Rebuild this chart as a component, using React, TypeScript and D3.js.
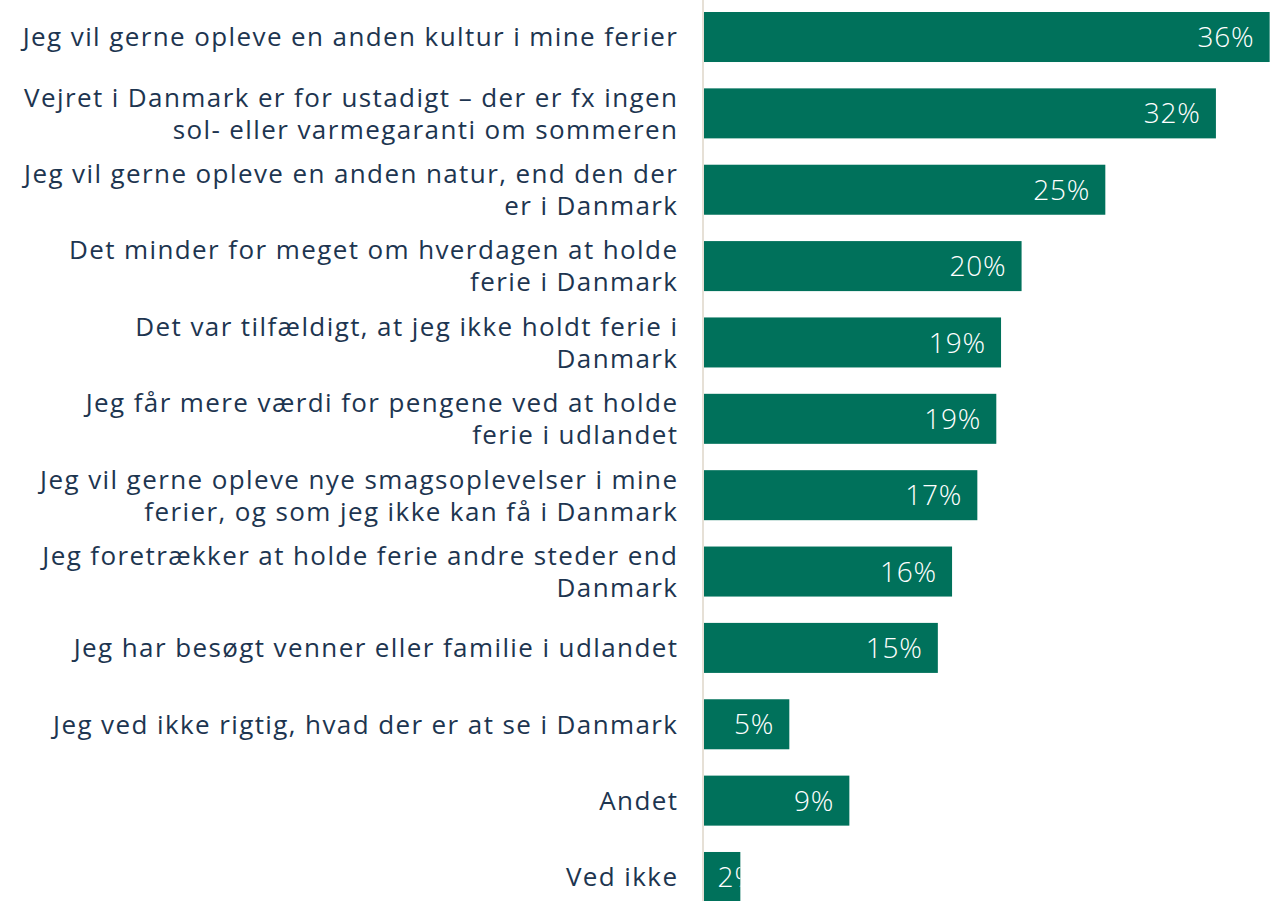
import React from "react";
import * as d3 from "d3";

const categories: string[][] = [
  ["Jeg vil gerne opleve en anden kultur i mine ferier"],
  ["Vejret i Danmark er for ustadigt – der er fx ingen", "sol- eller varmegaranti om sommeren"],
  ["Jeg vil gerne opleve en anden natur, end den der", "er i Danmark"],
  ["Det minder for meget om hverdagen at holde", "ferie i Danmark"],
  ["Det var tilfældigt, at jeg ikke holdt ferie i", "Danmark"],
  ["Jeg får mere værdi for pengene ved at holde", "ferie i udlandet"],
  ["Jeg vil gerne opleve nye smagsoplevelser i mine", "ferier, og som jeg ikke kan få i Danmark"],
  ["Jeg foretrækker at holde ferie andre steder end", "Danmark"],
  ["Jeg har besøgt venner eller familie i udlandet"],
  ["Jeg ved ikke rigtig, hvad der er at se i Danmark"],
  ["Andet"],
  ["Ved ikke"],
];

const values: number[] = [35.8, 32.4, 25.4, 20.1, 18.8, 18.5, 17.3, 15.7, 14.8, 5.4, 9.2, 2.3];
const valueLabels: string[] = ["36%", "32%", "25%", "20%", "19%", "19%", "17%", "16%", "15%", "5%", "9%", "2%"];

const W = 1279;
const H = 901;
const FONT = "'Open Sans', 'Noto Sans', sans-serif";

export default function App() {
  const ids = categories.map((_, i) => String(i));
  const y = d3.scaleBand<string>().domain(ids).range([12, 902]).paddingInner(0.345).paddingOuter(0);
  const x = d3.scaleLinear().domain([0, 40]).range([704, 704 + 632]);
  const lineH = 32;
  const ls = 1.4;
  return (
    <div style={{ position: "fixed", left: 0, top: 0, width: W, height: H, overflow: "hidden", background: "#fff" }}>
      <svg width={W} height={H} style={{ display: "block" }}>
        <defs>
          {ids.map((id, i) => (
            <clipPath id={"clip" + i} key={id}>
              <rect x={x(0)} y={y(id)!} width={x(values[i]) - x(0)} height={y.bandwidth()} />
            </clipPath>
          ))}
        </defs>
        <line x1={703} x2={703} y1={0} y2={H} stroke="#e6e0d6" strokeWidth={2} />
        {ids.map((id, i) => {
          const cy = y(id)! + y.bandwidth() / 2;
          const lines = categories[i];
          const x0 = x(0);
          const x1 = x(values[i]);
          const estW = valueLabels[i].length * 19;
          const tx = Math.max(x1 - 16, x0 + 15 + estW);
          return (
            <g key={id}>
              <rect x={x0} y={y(id)!} width={x1 - x0} height={y.bandwidth()} fill="#00715b" />
              <text
                x={tx + 0.8}
                y={cy}
                dy="0.36em"
                textAnchor="end"
                fill="#ffffff"
                fontFamily={FONT}
                fontWeight={300}
                fontSize={28}
                letterSpacing={0.8}
                clipPath={`url(#clip${i})`}
              >
                {valueLabels[i]}
              </text>
              <text
                x={677 + ls}
                y={cy - ((lines.length - 1) * lineH) / 2}
                textAnchor="end"
                fill="#1d3550"
                fontFamily={FONT}
                fontSize={26}
                letterSpacing={ls}
              >
                {lines.map((l, k) => (
                  <tspan key={k} x={677 + ls} dy={k === 0 ? "0.36em" : lineH}>
                    {l}
                  </tspan>
                ))}
              </text>
            </g>
          );
        })}
      </svg>
    </div>
  );
}
